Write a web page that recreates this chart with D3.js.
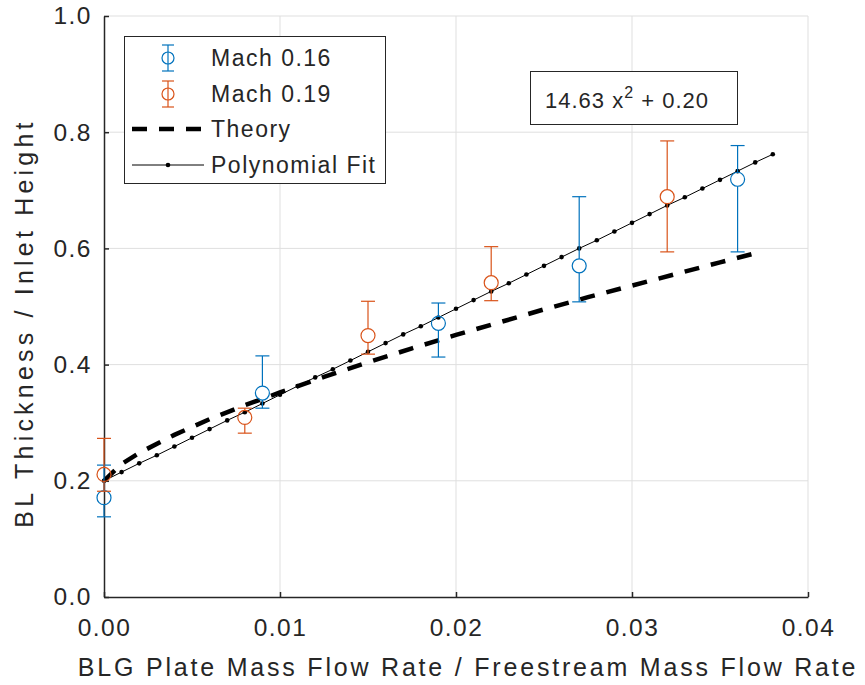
<!DOCTYPE html>
<html>
<head>
<meta charset="utf-8">
<script src="https://cdn.jsdelivr.net/npm/d3@7"></script>
<style>
  body { margin: 0; background: #fff; }
  text { font-family: "Liberation Sans", Arial, sans-serif; fill: #262626; }
</style>
</head>
<body>
<div class="chart"></div>
<script>
// data
var mach16X = [0, 0.009, 0.019, 0.027, 0.036];
var mach16Y = [0.171, 0.351, 0.471, 0.570, 0.719];
var mach16Lo = [0.138, 0.325, 0.413, 0.508, 0.594];
var mach16Hi = [0.227, 0.415, 0.506, 0.689, 0.777];

var mach19X = [0, 0.008, 0.015, 0.022, 0.032];
var mach19Y = [0.211, 0.309, 0.450, 0.541, 0.689];
var mach19Lo = [0.182, 0.282, 0.418, 0.510, 0.594];
var mach19Hi = [0.273, 0.325, 0.509, 0.603, 0.785];

var theoryX = [0, 0.001, 0.002, 0.004, 0.006, 0.008, 0.010, 0.0125, 0.015, 0.0175, 0.020, 0.0225, 0.025, 0.0275, 0.030, 0.0325, 0.035, 0.0373];
var theoryY = [0.200, 0.229, 0.248, 0.279, 0.306, 0.330, 0.352, 0.379, 0.404, 0.428, 0.451, 0.473, 0.495, 0.516, 0.536, 0.556, 0.576, 0.594];

var fitX = [0, 0.001, 0.002, 0.003, 0.004, 0.005, 0.006, 0.007, 0.008, 0.009,
  0.010, 0.011, 0.012, 0.013, 0.014, 0.015, 0.016, 0.017, 0.018, 0.019,
  0.020, 0.021, 0.022, 0.023, 0.024, 0.025, 0.026, 0.027, 0.028, 0.029,
  0.030, 0.031, 0.032, 0.033, 0.034, 0.035, 0.036, 0.037, 0.038];
var fitY = [0.200, 0.215, 0.230, 0.244, 0.259, 0.274, 0.289, 0.304, 0.318, 0.333,
  0.348, 0.363, 0.378, 0.392, 0.407, 0.422, 0.437, 0.452, 0.466, 0.481,
  0.496, 0.511, 0.526, 0.540, 0.555, 0.570, 0.585, 0.600, 0.614, 0.629,
  0.644, 0.659, 0.674, 0.688, 0.703, 0.718, 0.733, 0.748, 0.762];

var xTicks = [0, 0.01, 0.02, 0.03, 0.04];
var yTicks = [0, 0.2, 0.4, 0.6, 0.8, 1.0];

var legendLabels = ['Mach 0.16', 'Mach 0.19', 'Theory', 'Polynomial Fit'];
var fitLabel = '14.63 x';

var blue = '#0072BD', orange = '#D95319', axisColor = '#262626';

var W = 865, H = 685;
var mLeft = 104, mRight = 808, mTop = 16, mBottom = 597;

var svg = d3.select('.chart').append('svg')
  .attr('width', W).attr('height', H);

var x = d3.scaleLinear().domain([0, 0.04]).range([mLeft, mRight]);
var y = d3.scaleLinear().domain([0, 1]).range([mBottom, mTop]);

// grid
svg.append('g').selectAll('line').data(xTicks.slice(1)).enter()
  .append('line')
    .attr('x1', d => x(d)).attr('x2', d => x(d))
    .attr('y1', mTop).attr('y2', mBottom)
    .attr('stroke', '#dfdfdf').attr('stroke-width', 1);
svg.append('g').selectAll('line').data(yTicks.slice(1)).enter()
  .append('line')
    .attr('x1', mLeft).attr('x2', mRight)
    .attr('y1', d => y(d)).attr('y2', d => y(d))
    .attr('stroke', '#dfdfdf').attr('stroke-width', 1);

// axes
var xAxis = svg.append('g')
  .attr('transform', 'translate(0,' + mBottom + ')')
  .call(d3.axisBottom(x).tickValues(xTicks).tickFormat(d3.format('.2f')).tickSizeInner(-5).tickSizeOuter(0).tickPadding(22));
var yAxis = svg.append('g')
  .attr('transform', 'translate(' + mLeft + ',0)')
  .call(d3.axisLeft(y).tickValues(yTicks).tickFormat(d3.format('.1f')).tickSizeInner(-5).tickSizeOuter(0).tickPadding(12));

[xAxis, yAxis].forEach(function (a) {
  a.select('.domain').attr('stroke', axisColor).attr('stroke-width', 1.5);
  a.selectAll('.tick line').attr('stroke', axisColor).attr('stroke-width', 1.5);
  a.selectAll('.tick text').attr('font-size', 24.5).attr('fill', axisColor)
    .attr('letter-spacing', 1.5)
    .style('font-family', '"Liberation Sans", Arial, sans-serif');
});

svg.append('text')
  .attr('x', 468).attr('y', 676)
  .attr('text-anchor', 'middle').attr('font-size', 25).attr('letter-spacing', 2.8)
  .text('BLG Plate Mass Flow Rate / Freestream Mass Flow Rate');
svg.append('text')
  .attr('transform', 'translate(33,323) rotate(-90)')
  .attr('text-anchor', 'middle').attr('font-size', 25).attr('letter-spacing', 4.2)
  .text('BL Thickness / Inlet Height');

// theory
var line = d3.line().x(d => x(d[0])).y(d => y(d[1]));
svg.append('path')
  .datum(d3.zip(theoryX, theoryY))
  .attr('d', line)
  .attr('fill', 'none').attr('stroke', '#000')
  .attr('stroke-width', 4.5).attr('stroke-dasharray', '15,12');

// fit
svg.append('path')
  .datum(d3.zip(fitX, fitY))
  .attr('d', line)
  .attr('fill', 'none').attr('stroke', '#000').attr('stroke-width', 1);
svg.append('g').selectAll('circle').data(d3.zip(fitX, fitY)).enter()
  .append('circle')
    .attr('cx', d => x(d[0])).attr('cy', d => y(d[1]))
    .attr('r', 2.3).attr('fill', '#000');

// error bars
function errorSeries(xs, ys, lo, hi, color) {
  var g = svg.append('g');
  var rows = xs.map((d, i) => ({ x: d, y: ys[i], lo: lo[i], hi: hi[i] }));
  var e = g.selectAll('g').data(rows).enter().append('g')
    .attr('stroke', color).attr('stroke-width', 1.2).attr('fill', 'none');
  e.append('line')
    .attr('x1', d => x(d.x)).attr('x2', d => x(d.x))
    .attr('y1', d => y(d.lo)).attr('y2', d => y(d.y) + 7);
  e.append('line')
    .attr('x1', d => x(d.x)).attr('x2', d => x(d.x))
    .attr('y1', d => y(d.hi)).attr('y2', d => y(d.y) - 7);
  e.append('line')
    .attr('x1', d => x(d.x) - 7).attr('x2', d => x(d.x) + 7)
    .attr('y1', d => y(d.lo)).attr('y2', d => y(d.lo));
  e.append('line')
    .attr('x1', d => x(d.x) - 7).attr('x2', d => x(d.x) + 7)
    .attr('y1', d => y(d.hi)).attr('y2', d => y(d.hi));
  e.append('circle')
    .attr('cx', d => x(d.x)).attr('cy', d => y(d.y)).attr('r', 7);
}
errorSeries(mach16X, mach16Y, mach16Lo, mach16Hi, blue);
errorSeries(mach19X, mach19Y, mach19Lo, mach19Hi, orange);

// legend
var lg = svg.append('g');
lg.append('rect')
  .attr('x', 124.5).attr('y', 36.5).attr('width', 261).attr('height', 147)
  .attr('fill', '#fff').attr('stroke', axisColor).attr('stroke-width', 1);
var rowY = [58, 94, 129, 165];
legendLabels.forEach(function (t, i) {
  lg.append('text').attr('x', 211).attr('y', rowY[i] + 8)
    .attr('font-size', 23).attr('letter-spacing', 1.5).text(t);
});
[[blue, 0], [orange, 1]].forEach(function (c) {
  var cy = rowY[c[1]];
  var g = lg.append('g').attr('stroke', c[0]).attr('stroke-width', 1.2).attr('fill', 'none');
  g.append('line').attr('x1', 168).attr('x2', 168).attr('y1', cy - 13).attr('y2', cy + 13);
  g.append('line').attr('x1', 162).attr('x2', 174).attr('y1', cy - 13).attr('y2', cy - 13);
  g.append('line').attr('x1', 162).attr('x2', 174).attr('y1', cy + 13).attr('y2', cy + 13);
  g.append('circle').attr('cx', 168).attr('cy', cy).attr('r', 6);
});
lg.append('line').attr('x1', 132).attr('x2', 204).attr('y1', rowY[2]).attr('y2', rowY[2])
  .attr('stroke', '#000').attr('stroke-width', 4.5).attr('stroke-dasharray', '15,12');
lg.append('line').attr('x1', 132).attr('x2', 204).attr('y1', rowY[3]).attr('y2', rowY[3])
  .attr('stroke', '#000').attr('stroke-width', 1);
lg.append('circle').attr('cx', 168).attr('cy', rowY[3]).attr('r', 2.3).attr('fill', '#000');

// equation box
svg.append('rect')
  .attr('x', 530.5).attr('y', 71.5).attr('width', 207).attr('height', 53)
  .attr('fill', '#fff').attr('stroke', axisColor).attr('stroke-width', 1);
var eq = svg.append('text').attr('x', 545).attr('y', 108).attr('font-size', 22).attr('letter-spacing', 1);
eq.append('tspan').text(fitLabel);
eq.append('tspan').attr('dy', -10).attr('font-size', 16).text('2');
eq.append('tspan').attr('dy', 10).text(' + 0.20');
</script>
</body>
</html>
